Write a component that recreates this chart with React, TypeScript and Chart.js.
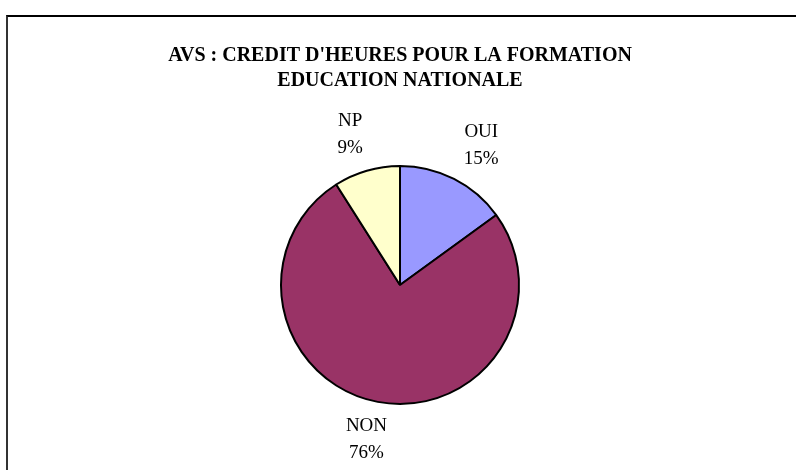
import React, { useEffect, useRef } from "react";
import { Chart, registerables } from "chart.js";

Chart.register(...registerables);

const categories = ["OUI", "NON", "NP"];
const values = [15, 76, 9];
const colors = ["#9999FF", "#993366", "#FFFFCC"];
const titleLines = ["AVS : CREDIT D'HEURES POUR LA FORMATION", "EDUCATION NATIONALE"];

const textPlugin = {
  id: "textPlugin",
  afterDraw(chart: any) {
    const ctx = chart.ctx;
    ctx.save();
    ctx.fillStyle = "#000";
    ctx.textAlign = "center";
    ctx.textBaseline = "middle";
    ctx.font = "bold 20px 'Liberation Serif', 'Times New Roman', serif";
    ctx.fillText(titleLines[0], 400, 56);
    ctx.fillText(titleLines[1], 400, 81);

    ctx.font = "19px 'Liberation Serif', 'Times New Roman', serif";
    const meta = chart.getDatasetMeta(0);
    const total = values.reduce((a, b) => a + b, 0);
    meta.data.forEach((arc: any, i: number) => {
      const { x, y, startAngle, endAngle, outerRadius } = arc.getProps(
        ["x", "y", "startAngle", "endAngle", "outerRadius"],
        true
      );
      const mid = (startAngle + endAngle) / 2;
      const cx = x + Math.cos(mid) * (outerRadius + 60);
      const cy = y + Math.sin(mid) * (outerRadius + 38);
      const pct = Math.round((values[i] / total) * 100) + "%";
      ctx.fillText(categories[i], cx, cy - 13);
      ctx.fillText(pct, cx, cy + 14);
    });
    ctx.restore();
  },
};

export default function App() {
  const ref = useRef<HTMLCanvasElement | null>(null);
  useEffect(() => {
    if (!ref.current) return;
    const chart = new Chart(ref.current, {
      type: "pie",
      data: {
        labels: categories,
        datasets: [
          {
            data: values,
            backgroundColor: colors,
            borderColor: "#000",
            borderWidth: 2,
          },
        ],
      },
      options: {
        responsive: false,
        animation: false,
        layout: { padding: { top: 165, bottom: 65, left: 4, right: 0 } },
        plugins: {
          legend: { display: false },
          title: { display: false },
          tooltip: { enabled: false },
        },
      },
      plugins: [textPlugin],
    });
    return () => chart.destroy();
  }, []);
  return (
    <>
      <div
        style={{
          position: "fixed",
          left: 6,
          top: 15,
          width: 820,
          height: 480,
          borderLeft: "2px solid #333",
          borderTop: "2px solid #000",
          boxSizing: "border-box",
        }}
      />
      <canvas
        ref={ref}
        width={796}
        height={470}
        style={{ position: "fixed", left: 0, top: 0, width: 796, height: 470 }}
      />
    </>
  );
}
